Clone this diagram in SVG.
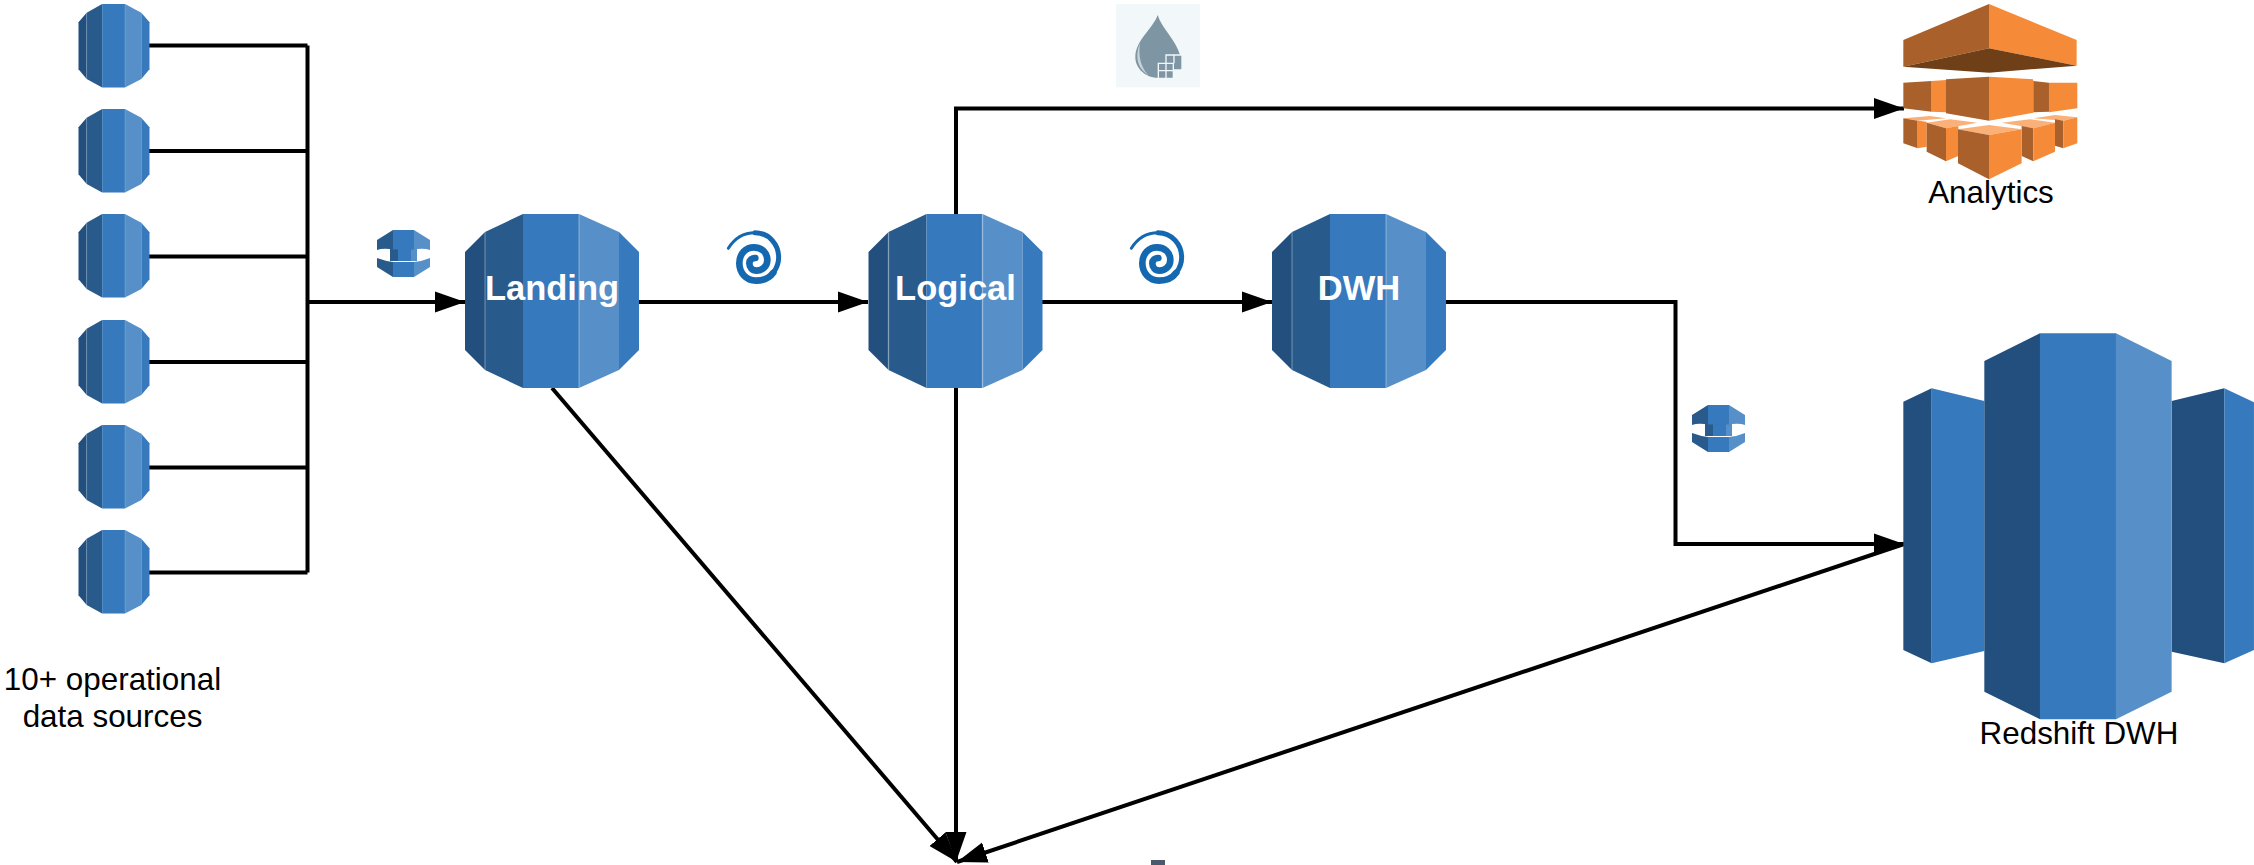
<svg xmlns="http://www.w3.org/2000/svg" width="2254" height="865" viewBox="0 0 2254 865">
<style>
.c{fill:none;stroke:#000;stroke-width:4}
.t{font-family:"Liberation Sans",Arial,sans-serif;font-size:31.4px;fill:#000;text-anchor:middle}
.w{font-family:"Liberation Sans",Arial,sans-serif;font-size:34.5px;font-weight:bold;fill:#fff;text-anchor:middle}
.d0{fill:#224F7E}.d1{fill:#285A8B}.m{fill:#3679BC}.l{fill:#5790C8}
.od{fill:#A9602A}.o{fill:#F58B38}.ol{fill:#FBB077}.ob{fill:#6F3F17}
.sp{fill:none;stroke:#1468B0;stroke-linecap:round}
</style>
<defs>
<marker id="a" markerUnits="userSpaceOnUse" markerWidth="32" markerHeight="24" refX="30" refY="12" orient="auto"><path d="M0 1.5L30 12L0 22.5Z" fill="#000"/></marker>
<g id="db">
<path class="d0" d="M0 38L20 18V156L0 136Z"/>
<path class="d1" d="M20 18L58 0V174L20 156Z"/>
<path class="m" d="M58 0H114V174H58Z"/>
<path class="l" d="M114 0L154 18V156L114 174Z"/>
<path class="m" d="M154 18L174 38V136L154 156Z"/>
<path d="M20 18V156M114 0V174" stroke="#fff" stroke-opacity=".25" stroke-width="1.5" fill="none"/>
</g>
<g id="bucket">
<path class="d1" d="M13 17H21V31H13Z"/>
<path class="m" d="M21 17H34V31H21Z"/>
<path class="l" d="M34 17H40V31H34Z"/>
<path class="d1" d="M0 10L16 0V19.500L13 19Q5 18 0 20Z"/>
<path class="m" d="M16 0H37V19.500H16Z"/>
<path class="l" d="M37 0L53 10V20Q48 18 40 19L37 19.500Z"/>
<path class="d1" d="M0 28Q8 31 16 32V47L0 37Z"/>
<path class="m" d="M16 32H37V47H16Z"/>
<path class="l" d="M37 32Q46 31 53 28V37L37 47Z"/>
</g>
<g id="spiral">
<path class="sp" stroke-width="9" d="M55 85C75 52 105 38 135 38"/>
<path class="sp" stroke-width="15" d="M135 38C178 38 206 75 206 112C206 130 200 145 190 158"/>
<path class="sp" stroke-width="20" d="M190 158C178 175 158 182 138 182C108 182 88 158 88 130C88 100 108 82 132 82C155 82 172 98 172 120C172 140 156 152 140 152C126 152 118 142 118 130C118 120 126 114 136 114"/>
</g>
</defs>
<g id="connectors">
<path class="c" d="M149 45.500H307.500M149 151H307.500M149 256.500H307.500M149 362H307.500M149 467.500H307.500M149 572.500H307.500M307.500 45.500V572.500"/>
<path class="c" d="M307.500 302H465" marker-end="url(#a)"/>
<path class="c" d="M639 302H868" marker-end="url(#a)"/>
<path class="c" d="M1042 302H1272" marker-end="url(#a)"/>
<path class="c" d="M1446 302H1675.500V544H1904" marker-end="url(#a)"/>
<path class="c" d="M956 214V108.500H1904" marker-end="url(#a)"/>
<path class="c" d="M552 388L957 862" marker-end="url(#a)"/>
<path class="c" d="M956 388V862" marker-end="url(#a)"/>
<path class="c" d="M1904 544L957 862" marker-end="url(#a)"/>
</g>
<g id="src1"><use href="#db" transform="translate(78.500 4) scale(.408 .48)"/></g>
<g id="src2"><use href="#db" transform="translate(78.500 109) scale(.408 .48)"/></g>
<g id="src3"><use href="#db" transform="translate(78.500 214) scale(.408 .48)"/></g>
<g id="src4"><use href="#db" transform="translate(78.500 320) scale(.408 .48)"/></g>
<g id="src5"><use href="#db" transform="translate(78.500 425) scale(.408 .48)"/></g>
<g id="src6"><use href="#db" transform="translate(78.500 530) scale(.408 .48)"/></g>
<g id="sources-label"><text class="t" x="112.500" y="690">10+ operational</text><text class="t" x="112.500" y="727">data sources</text></g>
<g id="landing"><use href="#db" transform="translate(465 214)"/><text class="w" x="552" y="300">Landing</text></g>
<g id="logical"><use href="#db" transform="translate(868.500 214)"/><text class="w" x="955.500" y="300">Logical</text></g>
<g id="dwh"><use href="#db" transform="translate(1272 214)"/><text class="w" x="1359" y="300">DWH</text></g>
<g id="bucket1"><use href="#bucket" transform="translate(377 230)"/></g>
<g id="bucket2"><use href="#bucket" transform="translate(1692 405)"/></g>
<g id="spiral1"><use href="#spiral" transform="translate(710 220) scale(.3333)"/></g>
<g id="spiral2"><use href="#spiral" transform="translate(1113 220) scale(.3333)"/></g>
<g id="lake" transform="translate(1090 0) scale(.3333)">
<rect x="78" y="12" width="252" height="250" fill="#F2F7FA"/>
<path d="M203 45C190 85 136 120 136 172C136 208 170 234 205 234H230V165H270C258 120 215 85 203 45Z" fill="#7E96A3"/>
<path d="M150 130C135 165 140 205 175 225C150 200 145 165 150 130Z" fill="#C5D2D9"/>
<path d="M228 165H276V210H250V190H228Z M205 190H250V235H205Z" fill="#7E96A3" stroke="#F2F7FA" stroke-width="4"/>
<path d="M228 190V235M205 212H250M252 165V190" stroke="#F2F7FA" stroke-width="4" fill="none"/>
</g>
<g id="analytics" transform="translate(1870 0) scale(.3333)">
<path class="od" d="M100 120L357 12V145L100 200Z"/>
<path class="o" d="M357 12L620 120V197L357 145Z"/>
<path class="ob" d="M100 200L357 145L620 197L357 218Z"/>
<path class="ol" d="M100 355L180 348L228 355L143 362Z"/>
<path class="od" d="M100 355L143 362V445L100 430Z"/>
<path class="o" d="M143 362L170 365V440L143 445Z"/>
<path class="ol" d="M490 355L555 345L622 352L580 362Z"/>
<path class="od" d="M555 358L580 362V445L555 437Z"/>
<path class="o" d="M580 362L622 352V430L580 445Z"/>
<path class="ol" d="M170 368L240 358L322 368L228 385Z"/>
<path class="od" d="M170 368L228 385V484L170 455Z"/>
<path class="o" d="M228 385L265 378V468L228 484Z"/>
<path class="ol" d="M395 368L480 358L555 368L490 385Z"/>
<path class="od" d="M455 378L490 385V484L455 468Z"/>
<path class="o" d="M490 385L555 368V455L490 484Z"/>
<path class="ol" d="M264 388L357 375L455 388L357 405Z"/>
<path class="od" d="M264 388L357 405V538L264 490Z"/>
<path class="o" d="M357 405L455 388V490L357 538Z"/>
<path class="od" d="M100 248L185 243V335L100 325Z"/>
<path class="o" d="M185 243L228 240V337L185 335Z"/>
<path class="od" d="M228 238L357 230V362L228 340Z"/>
<path class="o" d="M357 230L490 238V338L357 362Z"/>
<path class="od" d="M490 243L537 248V335L490 337Z"/>
<path class="o" d="M537 248L622 248V325L537 337Z"/>
</g>
<g id="analytics-label"><text class="t" x="1991" y="203">Analytics</text></g>
<g id="redshift" transform="translate(1880 320) scale(.3333)">
<path class="d0" d="M70 245L155 205V1030L70 990Z"/>
<path class="m" d="M155 205L313 243V993L155 1030Z"/>
<path class="d0" d="M875 243L1033 205V1030L875 995Z"/>
<path class="m" d="M1033 205L1122 247V990L1033 1030Z"/>
<path class="d0" d="M313 123L480 40V1198L313 1115Z"/>
<path class="m" d="M480 40H708V1198H480Z"/>
<path class="l" d="M708 40L875 123V1115L708 1198Z"/>
</g>
<g id="redshift-label"><text class="t" x="2079" y="744">Redshift DWH</text></g>
<rect x="1151" y="860" width="14" height="5" fill="#4A5A6A"/>
</svg>
